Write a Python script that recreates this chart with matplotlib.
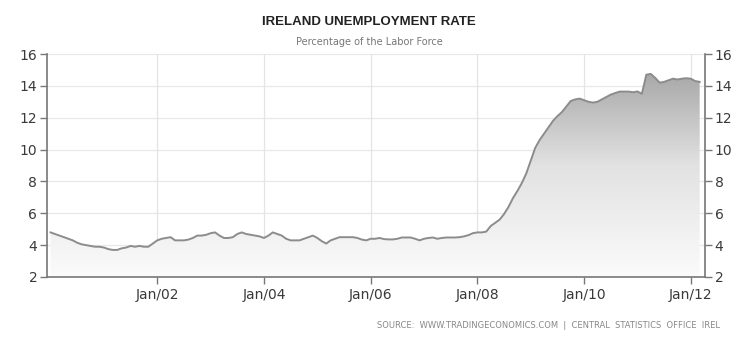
import numpy as np
import matplotlib
matplotlib.use("Agg")
import matplotlib.pyplot as plt
from matplotlib.colors import LinearSegmentedColormap
from matplotlib.patches import Polygon

# Monthly unemployment rate, Jan 2000 .. Mar 2012 (index 0 = Jan 2000)
start_year = 2000
rate = [
    4.8, 4.7, 4.6, 4.5, 4.4, 4.3, 4.15, 4.05, 4.0, 3.95, 3.9, 3.9,      # 2000
    3.85, 3.75, 3.7, 3.7, 3.8, 3.85, 3.95, 3.9, 3.95, 3.9, 3.9, 4.1,    # 2001
    4.3, 4.4, 4.45, 4.5, 4.3, 4.3, 4.3, 4.35, 4.45, 4.6, 4.6, 4.65,     # 2002
    4.75, 4.8, 4.6, 4.45, 4.45, 4.5, 4.7, 4.8, 4.7, 4.65, 4.6, 4.55,    # 2003
    4.45, 4.6, 4.8, 4.7, 4.6, 4.4, 4.3, 4.3, 4.3, 4.4, 4.5, 4.6,        # 2004
    4.45, 4.25, 4.1, 4.3, 4.4, 4.5, 4.5, 4.5, 4.5, 4.45, 4.35, 4.3,     # 2005
    4.4, 4.4, 4.45, 4.38, 4.36, 4.36, 4.4, 4.48, 4.48, 4.48, 4.4, 4.3,  # 2006
    4.4, 4.45, 4.48, 4.4, 4.45, 4.48, 4.48, 4.48, 4.5, 4.55, 4.63, 4.75, # 2007
    4.8, 4.8, 4.85, 5.2, 5.4, 5.6, 5.95, 6.4, 6.95, 7.4, 7.9, 8.5,      # 2008
    9.3, 10.1, 10.6, 11.0, 11.4, 11.8, 12.1, 12.35, 12.7, 13.05, 13.15, 13.2,  # 2009
    13.1, 13.0, 12.95, 13.0, 13.15, 13.3, 13.45, 13.55, 13.64, 13.64, 13.64, 13.6,  # 2010
    13.65, 13.5, 14.7, 14.75, 14.5, 14.2, 14.25, 14.35, 14.45, 14.4, 14.45, 14.48,  # 2011
    14.45, 14.3, 14.25,                                                  # 2012
]
tick_years = [2002, 2004, 2006, 2008, 2010, 2012]
tick_labels = ["Jan/02", "Jan/04", "Jan/06", "Jan/08", "Jan/10", "Jan/12"]
y_ticks = [2, 4, 6, 8, 10, 12, 14, 16]

title = "IRELAND UNEMPLOYMENT RATE"
subtitle = "Percentage of the Labor Force"
source = "SOURCE:  WWW.TRADINGECONOMICS.COM  |  CENTRAL  STATISTICS  OFFICE  IREL"

x = np.arange(len(rate))
y = np.array(rate)
xt = [(yr - start_year) * 12 for yr in tick_years]

fig = plt.figure(figsize=(7.5, 3.5), dpi=100)
ax = fig.add_axes([47 / 750, 1 - 277 / 350, (705 - 47) / 750, (277 - 54) / 350])

ymin, ymax = 2, 16
xmin, xmax = -0.8, 147.2
ax.set_xlim(xmin, xmax)
ax.set_ylim(ymin, ymax)

# gradient fill under the curve
cmap = LinearSegmentedColormap.from_list("g", ["#fbfbfb", "#e2e2e2", "#9c9c9c"])
grad = np.linspace(0, 1, 256).reshape(-1, 1)
im = ax.imshow(grad, extent=[xmin, xmax, ymin, ymax], origin="lower",
               aspect="auto", cmap=cmap, zorder=1)
verts = np.vstack([[x[0], ymin], np.column_stack([x, y]), [x[-1], ymin]])
poly = Polygon(verts, closed=True, facecolor="none", edgecolor="none")
ax.add_patch(poly)
im.set_clip_path(poly)

ax.plot(x, y, color="#8c8c8c", lw=1.4, zorder=3, solid_joinstyle="round")

# grid
for yt in y_ticks:
    ax.axhline(yt, color="#e8e8e8", lw=0.9, zorder=0.5)
for v in xt:
    ax.axvline(v, color="#e4e4e4", lw=0.9, zorder=0.5)

ax.set_xticks(xt)
ax.set_xticklabels(tick_labels)
ax.set_yticks(y_ticks)
ax.tick_params(axis="x", direction="out", length=5, width=1, color="#777777",
               labelsize=10, labelcolor="#3a3a3a", pad=3)
ax.tick_params(axis="y", direction="out", length=5, width=1, color="#777777",
               labelsize=10, labelcolor="#3a3a3a", left=True, right=True,
               labelleft=True, labelright=True, pad=2)

for s in ["left", "right", "bottom"]:
    ax.spines[s].set_color("#777777")
    ax.spines[s].set_linewidth(1.2)
ax.spines["top"].set_visible(False)

fig.text(369 / 750, 1 - 22 / 350, title, ha="center", va="center",
         fontsize=9.5, fontweight="bold", color="#222222",
         family=["Liberation Sans Narrow", "Liberation Sans", "DejaVu Sans"])
fig.text(369 / 750, 1 - 42 / 350, subtitle, ha="center", va="center",
         fontsize=7, color="#777777")
fig.text(720 / 750, 1 - 326 / 350, source, ha="right", va="center",
         fontsize=6, color="#888888")

fig.savefig("out.png", dpi=100, facecolor="white")
